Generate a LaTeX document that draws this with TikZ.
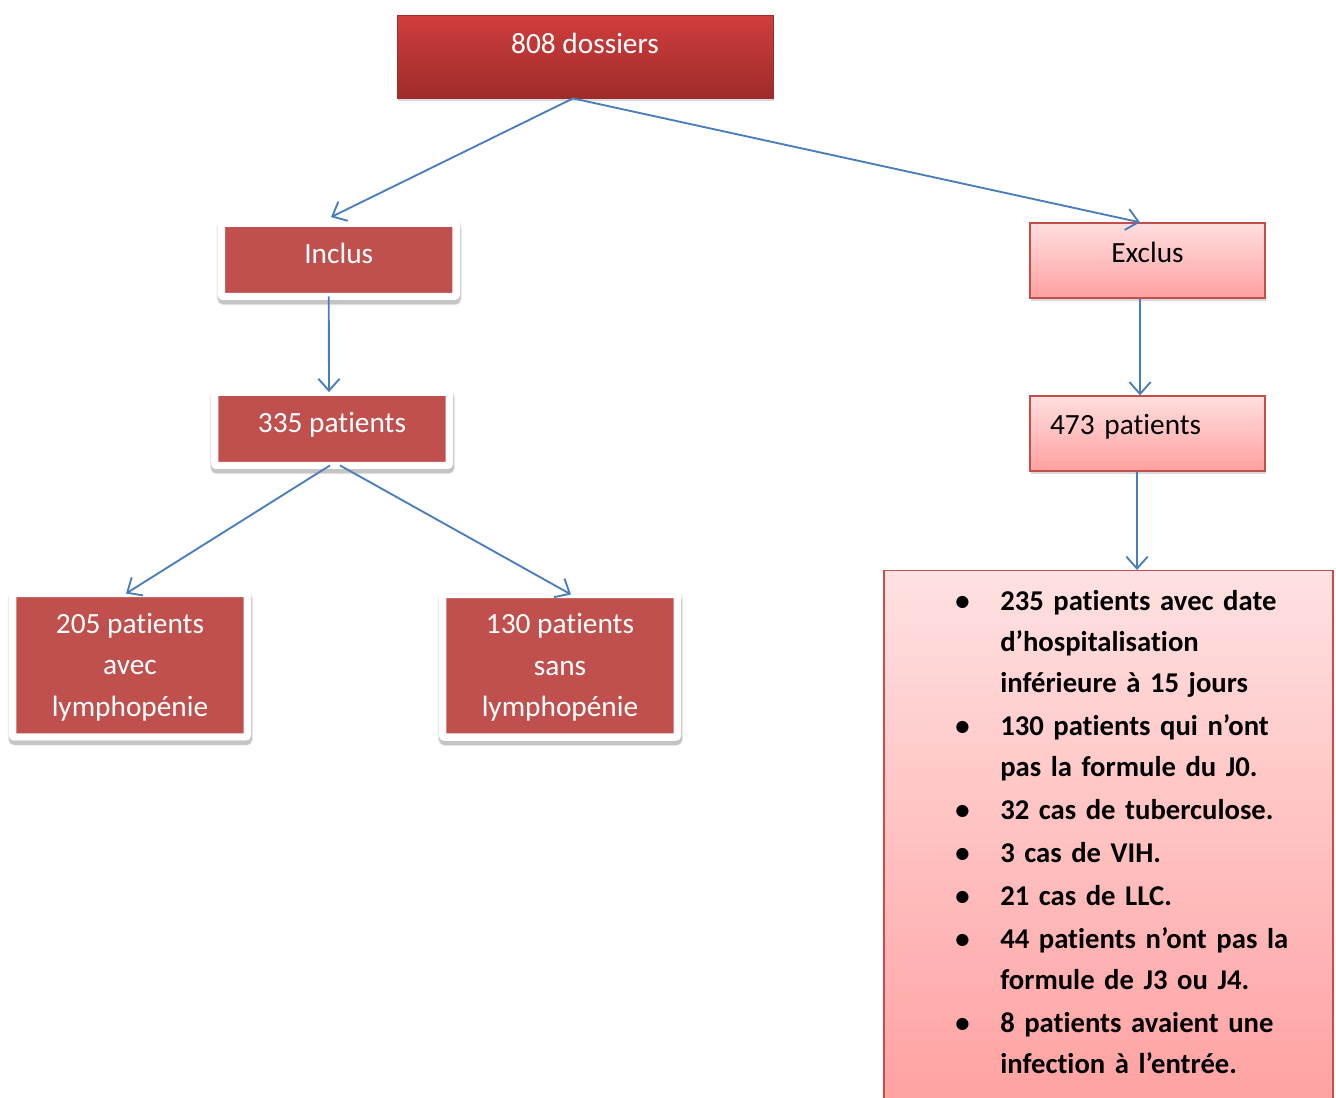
\documentclass[tikz,border=0pt]{standalone}
\usepackage{fontspec}
\setmainfont{Carlito}[Ligatures=NoCommon]
\usetikzlibrary{arrows.meta,shadows}
\definecolor{boxred}{RGB}{192,80,77}
\definecolor{topred}{RGB}{208,62,60}
\definecolor{darkred}{RGB}{158,44,43}
\definecolor{pinkline}{RGB}{196,78,76}
\definecolor{pinktop}{RGB}{255,222,222}
\definecolor{pinkbot}{RGB}{255,160,160}
\definecolor{listtop}{RGB}{255,225,225}
\definecolor{listbot}{RGB}{255,160,160}
\definecolor{flowblue}{RGB}{74,126,187}

\begin{document}
\begin{tikzpicture}[x=0.75pt,y=-0.75pt,font=\fontsize{22}{31}\selectfont]
\tikzset{top box/.style={draw=darkred,line width=0.6pt,top color=topred,bottom color=darkred,text=white,
      minimum width=282pt,inner sep=0pt,text height=28.5pt,text depth=33.75pt,
      drop shadow={shadow xshift=0.6pt,shadow yshift=-2.5pt,opacity=0.3}},
   red frame/.style={draw=white,line width=5.5pt,rounded corners=1.5pt,fill=boxred,text=white,
      minimum width=176pt,inner sep=0pt,outer sep=0pt,
      drop shadow={draw=black,fill=black,line width=8pt,opacity=0.08,shadow xshift=0.4pt,shadow yshift=-2.5pt},
      drop shadow={draw=black,fill=black,line width=6pt,opacity=0.16,shadow xshift=0.4pt,shadow yshift=-3pt}},
   pink box/.style={draw=pinkline,line width=1pt,top color=pinktop,bottom color=pinkbot,
      minimum width=176.25pt,inner sep=0pt,
      drop shadow={shadow xshift=0.6pt,shadow yshift=-2.5pt,opacity=0.3}},
   flow arrow/.style={draw=flowblue,line width=1.4pt,-{Straight Barb[length=9pt,width=16pt]}}}
\useasboundingbox (0,0) rectangle (1336,1097);

\node[top box] (dossiers) at (585,56.5) {808 dossiers};
\node[red frame,text height=30pt,text depth=25pt] (inclus) at (338.75,259.75) {Inclus};
\node[red frame,text height=30.2pt,text depth=24.8pt] (inclpat) at (332,428.75) {335 patients};
\node[red frame,minimum height=107.6pt,text depth=1pt,align=center] (avec) at (130,665.25) {205 patients\\avec\\lymphopénie};
\node[red frame,minimum height=107pt,text depth=1pt,align=center] (sans) at (560,665.75) {130 patients\\sans\\lymphopénie};
\node[pink box,text height=29.6pt,text depth=26.65pt] (exclus) at (1147.5,260.5) {Exclus};
\node[pink box,text height=28.7pt,text depth=27.5pt,inner xsep=15pt,text width=146.25pt,align=left] (exclpat) at (1147.5,433.5) {473 patients};
\node[pink box,anchor=north,minimum width=336.75pt,minimum height=408.75pt,top color=listtop,bottom color=listbot] (excllist) at (1108.5,570) {};
\node[anchor=north west,inner sep=0pt,text width=300pt,font=\bfseries\fontsize{21.5}{30.75}\selectfont] (excltext) at (930,569) {%
  \begin{list}{\textbullet}{\setlength{\leftmargin}{52.5pt}\setlength{\labelsep}{23pt}\setlength{\labelwidth}{30pt}%
    \setlength{\itemsep}{1.5pt}\setlength{\parsep}{0pt}\setlength{\topsep}{0pt}\setlength{\partopsep}{0pt}}
  \item 235 patients avec date\\d’hospitalisation\\inférieure à 15 jours
  \item 130 patients qui n’ont\\pas la formule du J0.
  \item 32 cas de tuberculose.
  \item 3 cas de VIH.
  \item 21 cas de LLC.
  \item 44 patients n’ont pas la\\formule de J3 ou J4.
  \item 8 patients avaient une\\infection à l’entrée.
  \end{list}};

\draw[flow arrow] ([xshift=-9pt]dossiers.south) -- ([xshift=-5.8pt,yshift=4.5pt]inclus.north);
\draw[flow arrow] ([xshift=-9pt]dossiers.south) -- ([xshift=-5.6pt]exclus.north);
\draw[flow arrow] ([xshift=-7.5pt]inclus.south) -- ([xshift=-2.25pt]inclpat.north);
\draw[flow arrow] ([xshift=-1.5pt]inclpat.south) -- ([xshift=-3pt]avec.north);
\draw[flow arrow] ([xshift=6pt]inclpat.south) -- ([xshift=8.25pt]sans.north);
\draw[flow arrow] ([xshift=-5.6pt]exclus.south) -- ([xshift=-5.6pt]exclpat.north);
\draw[flow arrow] ([xshift=-7.9pt]exclpat.south) -- ([xshift=21.4pt]excllist.north);
\end{tikzpicture}
\end{document}
